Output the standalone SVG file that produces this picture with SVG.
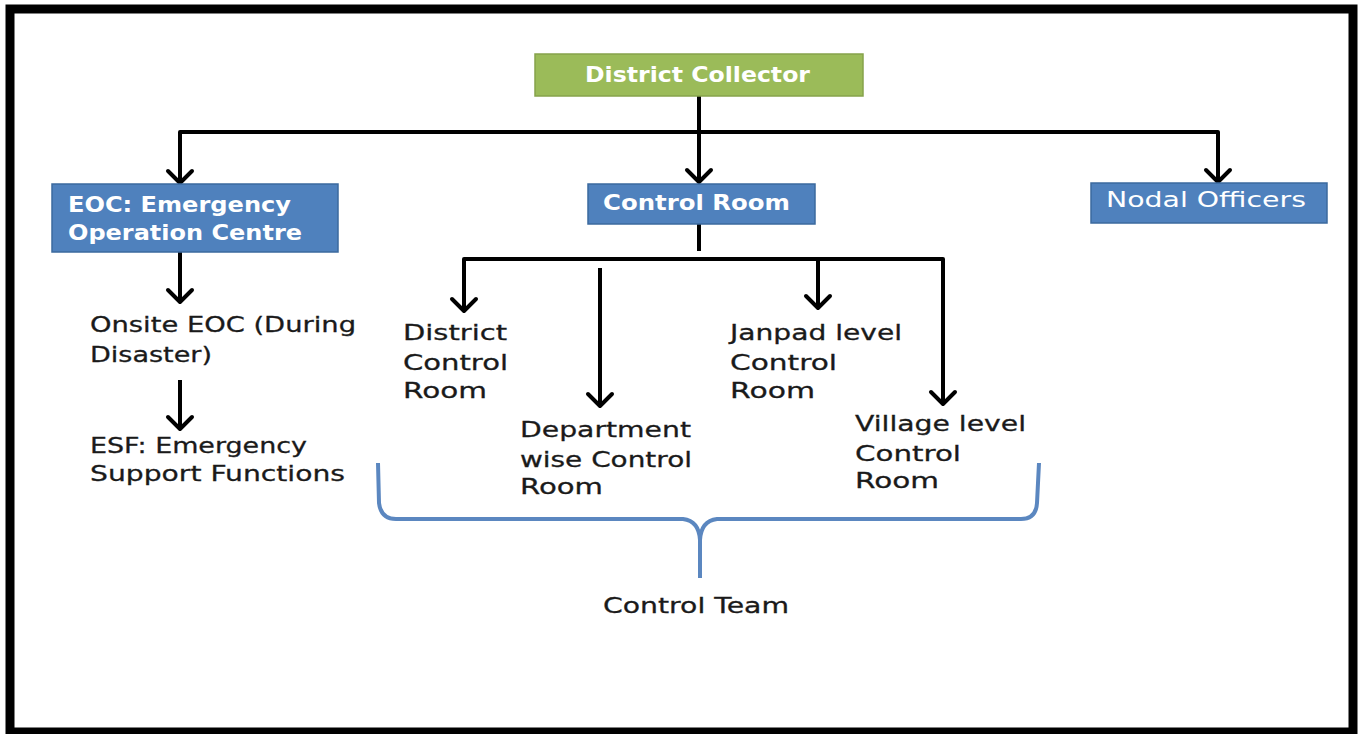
<svg xmlns="http://www.w3.org/2000/svg" width="1360" height="734" viewBox="0 0 1360 734">
<style>
.t{font-family:"DejaVu Sans","Liberation Sans",sans-serif;font-size:22px;fill:#1a1a1a;stroke:#1a1a1a;stroke-width:0.3}
.w{font-family:"DejaVu Sans","Liberation Sans",sans-serif;font-size:22px;fill:#ffffff}
.b{font-weight:bold}
.blue{fill:#4F81BD;stroke:#3B6A9E;stroke-width:1.5}
.green{fill:#9BBB59;stroke:#86A34B;stroke-width:1.5}
.c{fill:none;stroke:#000;stroke-width:4;stroke-linejoin:round}
.ar{marker-end:url(#chev)}
</style>
<defs>
<marker id="chev" markerUnits="userSpaceOnUse" orient="auto" refX="0" refY="0" markerWidth="30" markerHeight="30" overflow="visible">
<path d="M-12,-12 L0,0 L-12,12" fill="none" stroke="#000" stroke-width="4" stroke-linejoin="round" stroke-linecap="round"/>
</marker>
</defs>
<rect x="0" y="0" width="1360" height="734" fill="#ffffff"/>
<rect x="10" y="9" width="1343" height="723" fill="none" stroke="#000" stroke-width="9"/>

<g id="connectors">
<path class="c" d="M699,96 L699,132"/>
<path class="c" d="M180,183 L180,132 L1218,132 L1218,182"/>
<path class="c ar" d="M180,132 L180,183"/>
<path class="c ar" d="M1218,132 L1218,182"/>
<path class="c ar" d="M699,132 L699,182"/>
<path class="c" d="M699,224 L699,251"/>
<path class="c" d="M464,312 L464,259 L943,259 L943,405"/>
<path class="c ar" d="M464,259 L464,311"/>
<path class="c ar" d="M943,259 L943,404"/>
<path class="c ar" d="M818,259 L818,308"/>
<path class="c ar" d="M600,268 L600,406"/>
<path class="c ar" d="M180,252 L180,302"/>
<path class="c ar" d="M180,380 L180,429"/>
</g>

<g id="district-collector">
<rect class="green" x="535" y="54" width="328" height="42"/>
<text class="w b" x="585" y="82" textLength="225" lengthAdjust="spacingAndGlyphs">District Collector</text>
</g>

<g id="eoc">
<rect class="blue" x="52" y="184" width="286" height="68"/>
<text class="w b" x="68" y="212" textLength="223" lengthAdjust="spacingAndGlyphs">EOC: Emergency</text>
<text class="w b" x="68" y="240" textLength="234" lengthAdjust="spacingAndGlyphs">Operation Centre</text>
</g>

<g id="control-room">
<rect class="blue" x="588" y="184" width="227" height="40"/>
<text class="w b" x="603" y="210" textLength="187" lengthAdjust="spacingAndGlyphs">Control Room</text>
</g>

<g id="nodal-officers">
<rect class="blue" x="1091" y="183" width="236" height="40"/>
<text class="w" x="1106" y="207" textLength="200" lengthAdjust="spacingAndGlyphs">Nodal Officers</text>
</g>

<g id="onsite-eoc">
<text class="t" x="90" y="332" textLength="266" lengthAdjust="spacingAndGlyphs">Onsite EOC (During</text>
<text class="t" x="90" y="362" textLength="122" lengthAdjust="spacingAndGlyphs">Disaster)</text>
</g>

<g id="esf">
<text class="t" x="90" y="453" textLength="217" lengthAdjust="spacingAndGlyphs">ESF: Emergency</text>
<text class="t" x="90" y="481" textLength="255" lengthAdjust="spacingAndGlyphs">Support Functions</text>
</g>

<g id="district-control-room">
<text class="t" x="403" y="340" textLength="104" lengthAdjust="spacingAndGlyphs">District</text>
<text class="t" x="403" y="370" textLength="105" lengthAdjust="spacingAndGlyphs">Control</text>
<text class="t" x="403" y="398" textLength="84" lengthAdjust="spacingAndGlyphs">Room</text>
</g>

<g id="department-control-room">
<text class="t" x="520" y="437" textLength="171" lengthAdjust="spacingAndGlyphs">Department</text>
<text class="t" x="520" y="467" textLength="172" lengthAdjust="spacingAndGlyphs">wise Control</text>
<text class="t" x="520" y="494" textLength="83" lengthAdjust="spacingAndGlyphs">Room</text>
</g>

<g id="janpad-control-room">
<text class="t" x="730" y="340" textLength="172" lengthAdjust="spacingAndGlyphs">Janpad level</text>
<text class="t" x="730" y="370" textLength="107" lengthAdjust="spacingAndGlyphs">Control</text>
<text class="t" x="730" y="398" textLength="85" lengthAdjust="spacingAndGlyphs">Room</text>
</g>

<g id="village-control-room">
<text class="t" x="855" y="431" textLength="171" lengthAdjust="spacingAndGlyphs">Village level</text>
<text class="t" x="855" y="461" textLength="106" lengthAdjust="spacingAndGlyphs">Control</text>
<text class="t" x="855" y="488" textLength="84" lengthAdjust="spacingAndGlyphs">Room</text>
</g>

<g id="control-team">
<path d="M378,463 L379,503 Q381,519 396,519 L683,519 Q699,521 700,540 L700,578 M700,540 Q701,521 717,519 L1021,519 Q1036,519 1037,503 L1039,463" fill="none" stroke="#5B87C0" stroke-width="4" stroke-linejoin="round"/>
<text class="t" x="603" y="613" textLength="186" lengthAdjust="spacingAndGlyphs">Control Team</text>
</g>
</svg>
